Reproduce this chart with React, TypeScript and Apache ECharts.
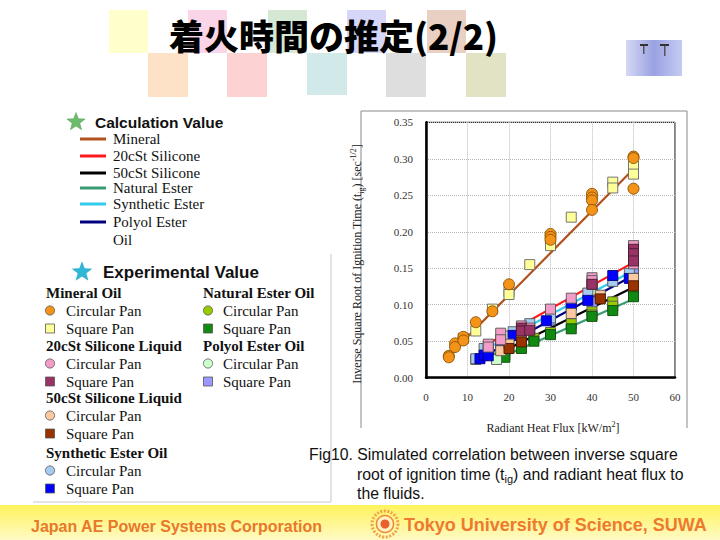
import React, { useEffect, useRef } from "react";
import * as echarts from "echarts";

// ---------- data ----------
const titleText = "着火時間の推定(2/2)";
const xMin = 0, xMax = 60, xStep = 10;
const yMin = 0, yMax = 0.35, yStep = 0.05;

// calculated lines [x, y]
const calcMineral = [[5.5, 0.030], [50, 0.286]];
const calc20cSt = [[13.5, 0.042], [50, 0.158]];
const calc50cSt = [[17, 0.032], [50, 0.124]];
const calcNatural = [[18.5, 0.029], [50, 0.108]];
const calcSynthetic = [[13, 0.035], [50, 0.147]];
const calcPolyol = [[12.5, 0.025], [49.3, 0.138]];

// experimental values [x, y]
const mineralCircle = [[5.5, 0.030], [5.5, 0.028], [7, 0.047], [7, 0.042], [9, 0.056], [9, 0.051], [12, 0.076], [16, 0.091], [20, 0.128], [30, 0.197], [30, 0.193], [30, 0.189], [40, 0.252], [40, 0.247], [40, 0.243], [40, 0.230], [50, 0.303], [50, 0.301], [50, 0.259]];
const mineralSquare = [[9, 0.054], [12, 0.064], [16, 0.094], [20, 0.118], [20, 0.114], [25, 0.155], [30, 0.181], [35, 0.220], [45, 0.268], [45, 0.260], [50, 0.290], [50, 0.279]];
const s20Circle = [[15, 0.046], [15, 0.042], [18, 0.061], [18, 0.052], [23, 0.071], [25, 0.068], [30, 0.094], [35, 0.109], [40, 0.137], [40, 0.133], [50, 0.181], [50, 0.171], [50, 0.165], [50, 0.156]];
const s20Square = [[23, 0.068], [23, 0.064], [25, 0.065], [40, 0.128], [50, 0.176], [50, 0.170], [50, 0.160]];
const s50Circle = [[18, 0.037], [20, 0.046], [23, 0.055], [35, 0.088], [42, 0.113], [50, 0.131], [50, 0.136]];
const s50Square = [[20, 0.040], [23, 0.049], [42, 0.108], [50, 0.126]];
const synCircle = [[12, 0.026], [14, 0.040], [15, 0.039], [21, 0.063], [25, 0.074], [30, 0.082], [35, 0.100], [39, 0.116], [40, 0.128], [45, 0.132], [49, 0.143]];
const synSquare = [[13, 0.026], [14, 0.031], [15, 0.030], [18, 0.047], [21, 0.058], [29, 0.078], [35, 0.099], [39, 0.106], [45, 0.140], [49, 0.136]];
const natCircle = [[17, 0.027], [19, 0.031], [26, 0.054], [30, 0.062], [35, 0.074], [40, 0.091], [40, 0.086], [45, 0.104], [45, 0.098], [50, 0.119], [50, 0.114]];
const natSquare = [[19, 0.028], [23, 0.040], [26, 0.050], [30, 0.059], [35, 0.067], [40, 0.084], [45, 0.092], [50, 0.111]];
const polCircle = [[12, 0.025], [17, 0.025], [20, 0.057], [30, 0.088], [40, 0.125], [40, 0.120], [50, 0.147], [50, 0.142]];
const polSquare = [[30, 0.079], [40, 0.104], [50, 0.150]];

const calcLegendLabels = ["Mineral", "20cSt Silicone", "50cSt Silicone", "Natural Ester", "Synthetic Ester", "Polyol Ester"];
const expHeadsLeft = ["Mineral Oil", "20cSt Silicone Liquid", "50cSt Silicone Liquid", "Synthetic Ester Oil"];
const expHeadsRight = ["Natural Ester Oil", "Polyol Ester Oil"];
const panLabels = ["Circular Pan", "Square Pan"];
const captionLines = [
  "Fig10. Simulated correlation between inverse square",
  "root of ignition time (t{sub|ig}) and radiant heat flux to",
  "the fluids.",
];
const yAxisName = "Inverse Square Root of Ignition Time (t{sub|ig}) [sec{sup|-1/2}]";
const xAxisName = "Radiant Heat Flux [kW/m{sup|2}]";
const footerLeft = "Japan AE Power Systems Corporation";
const footerRight = "Tokyo University of Science, SUWA";

// ---------- styles ----------
const C = {
  mineralLine: "#b0521c",
  redLine: "#ff1a1a",
  blackLine: "#000000",
  greenLine: "#3a9c74",
  cyanLine: "#33ccee",
  navyLine: "#000080",
  mineralC: "#f39419", mineralS: "#ffff99",
  s20C: "#f39cc8", s20S: "#993366",
  s50C: "#fbc8a0", s50S: "#993300",
  synC: "#a6cbf0", synS: "#0000ff",
  natC: "#99cc00", natS: "#128a12",
  polC: "#ccffcc", polS: "#9999ff",
};
const serif = "Liberation Serif";
const sans = "Liberation Sans";

function starPoints(cx: number, cy: number, R: number, r: number) {
  const pts: number[][] = [];
  for (let i = 0; i < 10; i++) {
    const a = -Math.PI / 2 + (i * Math.PI) / 5;
    const rr = i % 2 === 0 ? R : r;
    pts.push([cx + rr * Math.cos(a), cy + rr * Math.sin(a)]);
  }
  return pts;
}

export default function App() {
  const ref = useRef<HTMLDivElement>(null);
  useEffect(() => {
    if (!ref.current) return;
    const chart = echarts.init(ref.current, undefined, { renderer: "svg" });

    const lineSeries = (name: string, data: number[][], color: string) => ({
      name, type: "line", data, symbol: "none", z: 2,
      lineStyle: { color, width: 2.2 }, silent: true,
    });
    const scat = (name: string, data: number[][], color: string, shape: string, border = "#555") => ({
      name, type: "scatter", data, symbol: shape === "c" ? "circle" : "rect",
      symbolSize: shape === "c" ? 11 : 10, z: 3,
      itemStyle: { color, borderColor: border, borderWidth: 0.9, opacity: 1 },
    });

    const g: any[] = [];
    // title decoration squares
    const sq = (x: number, y: number, w: number, h: number, fill: string) =>
      g.push({ type: "rect", shape: { x, y, width: w, height: h }, style: { fill }, z: 0 });
    sq(109, 10, 39, 43, "#ffffcc");
    sq(188, 10, 39, 43, "#f9d5e7");
    sq(268, 10, 39, 43, "#d5e8d4");
    sq(347, 10, 39, 43, "#d6d6f8");
    sq(427, 10, 39, 43, "#e9d0c3");
    sq(148, 53, 40, 44, "#fde2c8");
    sq(227, 53, 40, 44, "#fcd2d2");
    sq(307, 53, 40, 42, "#d1e9e9");
    sq(386, 53, 40, 44, "#dedede");
    sq(466, 53, 40, 44, "#e2e2c4");
    g.push({
      type: "text", x: 169, y: 34, z: 5,
      style: { text: titleText, fill: "#000", fontSize: 35, fontWeight: 900, fontFamily: "Noto Sans CJK JP", align: "left", verticalAlign: "middle" },
    });
    // top right logo
    g.push({
      type: "rect", shape: { x: 626, y: 40, width: 56, height: 36 }, z: 1,
      style: { fill: new echarts.graphic.LinearGradient(0, 0, 1, 0, [{ offset: 0, color: "#d4d8f4" }, { offset: 0.5, color: "#9aa2e2" }, { offset: 1, color: "#c6cbf2" }]) },
    });
    g.push({ type: "rect", shape: { x: 640, y: 44, width: 8, height: 2 }, z: 2, style: { fill: "#333" } });
    g.push({ type: "rect", shape: { x: 660, y: 44, width: 9, height: 2 }, z: 2, style: { fill: "#333" } });
    g.push({ type: "rect", shape: { x: 643, y: 46, width: 1.5, height: 8 }, z: 2, style: { fill: "#555" } });
    g.push({ type: "rect", shape: { x: 664, y: 46, width: 1.5, height: 10 }, z: 2, style: { fill: "#555" } });

    // calculation legend
    g.push({ type: "polygon", shape: { points: starPoints(76, 122, 9.5, 4) }, style: { fill: "#6dbb6d", stroke: "#4f9f4f", lineWidth: 0.5 } });
    g.push({ type: "text", x: 95, y: 122, style: { text: "Calculation Value", fontSize: 15.5, fontWeight: "bold", fontFamily: sans, fill: "#111", verticalAlign: "middle" } });
    const calcColors = [C.mineralLine, C.redLine, C.blackLine, C.greenLine, C.cyanLine, C.navyLine];
    const calcYs = [139, 156, 173, 188, 204, 222];
    calcLegendLabels.forEach((t, i) => {
      g.push({ type: "line", shape: { x1: 80, y1: calcYs[i], x2: 106, y2: calcYs[i] }, style: { stroke: calcColors[i], lineWidth: 3 } });
      g.push({ type: "text", x: 113, y: calcYs[i], style: { text: t, fontSize: 15, fontFamily: serif, fill: "#111", verticalAlign: "middle" } });
    });
    g.push({ type: "text", x: 113, y: 240, style: { text: "Oil", fontSize: 15, fontFamily: serif, fill: "#111", verticalAlign: "middle" } });

    // experimental legend box
    g.push({ type: "line", shape: { x1: 331, y1: 254, x2: 331, y2: 502 }, style: { stroke: "#c8c8c8", lineWidth: 1 } });
    g.push({ type: "line", shape: { x1: 33, y1: 502, x2: 331, y2: 502 }, style: { stroke: "#c8c8c8", lineWidth: 1 } });
    g.push({ type: "polygon", shape: { points: starPoints(82, 272, 10, 4.2) }, style: { fill: "#2fb8d8", stroke: "#1e9bbb", lineWidth: 0.5 } });
    g.push({ type: "text", x: 103, y: 272, style: { text: "Experimental Value", fontSize: 17, fontWeight: "bold", fontFamily: sans, fill: "#111", verticalAlign: "middle" } });
    const marker = (kind: string, x: number, y: number, fill: string, stroke = "#555") => {
      if (kind === "c") g.push({ type: "circle", shape: { cx: x, cy: y, r: 4.6 }, style: { fill, stroke, lineWidth: 0.8 } });
      else g.push({ type: "rect", shape: { x: x - 4.5, y: y - 4.5, width: 9, height: 9 }, style: { fill, stroke, lineWidth: 0.8 } });
    };
    const leftCols = [[C.mineralC, C.mineralS], [C.s20C, C.s20S], [C.s50C, C.s50S], [C.synC, C.synS]];
    const leftHeadY = [293, 346, 398, 453];
    expHeadsLeft.forEach((h, i) => {
      const y0 = leftHeadY[i];
      g.push({ type: "text", x: 46, y: y0, style: { text: h, fontSize: 15, fontWeight: "bold", fontFamily: serif, fill: "#111", verticalAlign: "middle" } });
      marker("c", 50, y0 + 17.5, leftCols[i][0]);
      marker("s", 50, y0 + 35.5, leftCols[i][1]);
      g.push({ type: "text", x: 66, y: y0 + 17.5, style: { text: panLabels[0], fontSize: 15, fontFamily: serif, fill: "#111", verticalAlign: "middle" } });
      g.push({ type: "text", x: 66, y: y0 + 35.5, style: { text: panLabels[1], fontSize: 15, fontFamily: serif, fill: "#111", verticalAlign: "middle" } });
    });
    const rightCols = [[C.natC, C.natS], [C.polC, C.polS]];
    const rightHeadY = [293, 346];
    expHeadsRight.forEach((h, i) => {
      const y0 = rightHeadY[i];
      g.push({ type: "text", x: 203, y: y0, style: { text: h, fontSize: 15, fontWeight: "bold", fontFamily: serif, fill: "#111", verticalAlign: "middle" } });
      marker("c", 208, y0 + 17.5, rightCols[i][0]);
      marker("s", 208, y0 + 35.5, rightCols[i][1]);
      g.push({ type: "text", x: 223, y: y0 + 17.5, style: { text: panLabels[0], fontSize: 15, fontFamily: serif, fill: "#111", verticalAlign: "middle" } });
      g.push({ type: "text", x: 223, y: y0 + 35.5, style: { text: panLabels[1], fontSize: 15, fontFamily: serif, fill: "#111", verticalAlign: "middle" } });
    });

    // chart outer frame
    g.push({ type: "polyline", shape: { points: [[361, 428], [361, 111], [687, 111], [687, 428]] }, style: { stroke: "#8a8a8a", lineWidth: 1, fill: "none" } });
    // axis names
    g.push({
      type: "text", x: 357, y: 264, rotation: Math.PI / 2,
      style: {
        text: yAxisName, fontSize: 12, fontFamily: serif, fill: "#222", align: "center", verticalAlign: "middle", lineHeight: 16,
        rich: { sub: { fontSize: 8, verticalAlign: "bottom", lineHeight: 16, fontFamily: serif, fill: "#222" }, sup: { fontSize: 8, verticalAlign: "top", lineHeight: 16, fontFamily: serif, fill: "#222" } },
      },
    });
    g.push({
      type: "text", x: 553, y: 428,
      style: {
        text: xAxisName, fontSize: 12, fontFamily: serif, fill: "#222", align: "center", verticalAlign: "middle", lineHeight: 16,
        rich: { sup: { fontSize: 8, verticalAlign: "top", lineHeight: 16, fontFamily: serif, fill: "#222" } },
      },
    });
    // caption
    const capX = [309, 357, 357];
    const capY = [454, 474, 493];
    captionLines.forEach((t, i) => {
      g.push({
        type: "text", x: capX[i], y: capY[i],
        style: {
          text: t, fontSize: 15.8, fontFamily: sans, fill: "#111", verticalAlign: "middle", lineHeight: 18,
          rich: { sub: { fontSize: 11, verticalAlign: "bottom", lineHeight: 21, fontFamily: sans, fill: "#111" } },
        },
      });
    });
    // footer
    g.push({
      type: "rect", shape: { x: 0, y: 505, width: 720, height: 35 },
      style: { fill: new echarts.graphic.LinearGradient(0, 0, 0, 1, [{ offset: 0, color: "#fff35c" }, { offset: 1, color: "#fffac4" }]) },
    });
    g.push({ type: "text", x: 31, y: 526, style: { text: footerLeft, fontSize: 16, fontWeight: "bold", fontFamily: sans, fill: "#e8782a", verticalAlign: "middle" } });
    g.push({ type: "text", x: 404, y: 525, style: { text: footerRight, fontSize: 18, fontWeight: "bold", fontFamily: sans, fill: "#ee7a2e", verticalAlign: "middle" } });
    g.push({ type: "circle", shape: { cx: 385, cy: 524, r: 13 }, style: { fill: "none", stroke: "#f2a24a", lineWidth: 3, lineDash: [2, 1.5] } });
    g.push({ type: "circle", shape: { cx: 385, cy: 524, r: 8.5 }, style: { fill: "#fff1c0", stroke: "#ec8a3a", lineWidth: 1.5 } });
    g.push({ type: "circle", shape: { cx: 385, cy: 524, r: 4.5 }, style: { fill: "#e8602a" } });

    const axisLabel = { fontFamily: serif, fontSize: 11, color: "#333" };
    chart.setOption({
      animation: false,
      backgroundColor: "#fff",
      grid: { left: 426, right: 45, top: 122.3, bottom: 162.3, show: true, borderColor: "#000", borderWidth: 1 },
      xAxis: {
        type: "value", min: xMin, max: xMax, interval: xStep,
        axisLine: { lineStyle: { color: "#000", width: 2.5 } },
        axisTick: { show: false },
        axisLabel: { ...axisLabel, margin: 14 },
        splitLine: { show: true, lineStyle: { color: "#b8b8b8", type: "dotted", width: 1 } },
      },
      yAxis: {
        type: "value", min: yMin, max: yMax, interval: yStep,
        axisLine: { show: true, lineStyle: { color: "#000", width: 2.5 } },
        axisTick: { show: false },
        axisLabel: { ...axisLabel, margin: 13, formatter: (v: number) => v.toFixed(2) },
        splitLine: { show: true, lineStyle: { color: "#b8b8b8", type: "dotted", width: 1 } },
      },
      series: [
        lineSeries("Mineral", calcMineral, C.mineralLine),
        lineSeries("Natural Ester", calcNatural, C.greenLine),
        lineSeries("50cSt Silicone", calc50cSt, C.blackLine),
        lineSeries("Polyol Ester", calcPolyol, C.navyLine),
        lineSeries("Synthetic Ester", calcSynthetic, C.cyanLine),
        lineSeries("20cSt Silicone", calc20cSt, C.redLine),
        scat("Natural Circular", natCircle, C.natC),
        scat("Natural Square", natSquare, C.natS, "s", "#0a4a0a"),
        scat("Polyol Circular", polCircle, C.polC),
        scat("Polyol Square", polSquare, C.polS),
        scat("Synthetic Circular", synCircle, C.synC),
        scat("Synthetic Square", synSquare, C.synS, "s", "#000080"),
        scat("50cSt Circular", s50Circle, C.s50C),
        scat("50cSt Square", s50Square, C.s50S, "s", "#4a1a00"),
        scat("20cSt Circular", s20Circle, C.s20C),
        scat("20cSt Square", s20Square, C.s20S, "s", "#4a1a30"),
        scat("Mineral Square", mineralSquare, C.mineralS, "s", "#666"),
        scat("Mineral Circular", mineralCircle, C.mineralC, "c", "#8a5000"),
      ],
      graphic: g,
    });
    return () => chart.dispose();
  }, []);
  return <div ref={ref} style={{ position: "absolute", left: 0, top: 0, width: 720, height: 540, background: "#fff" }} />;
}
